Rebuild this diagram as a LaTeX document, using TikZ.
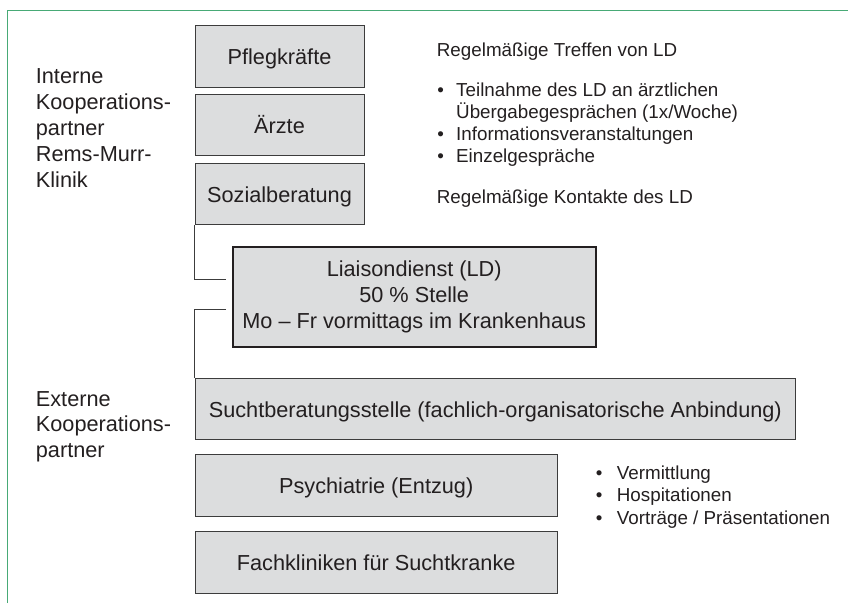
\documentclass[tikz,border=0pt]{standalone}
\usepackage{fontspec}
\setmainfont{Liberation Sans}
\usepackage{array}
\definecolor{framegreen}{RGB}{72,170,118}
\definecolor{boxfill}{RGB}{220,221,222}
\definecolor{boxline}{RGB}{60,60,60}
\definecolor{txt}{RGB}{35,31,32}
\begin{document}
\begin{tikzpicture}[x=1pt,y=-1pt,
  boxbase/.style={draw=boxline, fill=boxfill, line width=0.9pt, inner sep=0pt,
    text=txt, font=\fontsize{21.7}{26}\selectfont, align=center},
  box/.style={boxbase, text height=16.5pt, text depth=0pt},
  ldbox/.style={boxbase, draw=txt, line width=1.8pt},
  lbl/.style={inner sep=0pt, anchor=base west, text=txt, font=\fontsize{21.7}{26}\selectfont},
  anno/.style={inner sep=0pt, anchor=base west, text=txt, font=\fontsize{18.8}{22}\selectfont},
  conn/.style={draw=boxline, line width=0.9pt}]
\useasboundingbox (0,0) rectangle (848,603);
% frame
\draw[framegreen, line width=1.8pt] (7.5,603) -- (7.5,10.5) -- (848,10.5);
% internal partners
\node[box, minimum width=169pt, minimum height=61.3pt] (pfl) at (279.5,56.3) {Pflegkräfte};
\node[box, minimum width=169pt, minimum height=61pt] (arz) at (279.5,125.3) {Ärzte};
\node[box, minimum width=169pt, minimum height=61pt] (soz) at (279.5,193.8) {Sozialberatung};
% liaison service
\node[ldbox, minimum width=363pt, minimum height=100pt] (ld) at (414.2,297.3)
  {Liaisondienst (LD)\\50 \% Stelle\\Mo – Fr vormittags im Krankenhaus};
% external partners
\node[box, minimum width=600.7pt, minimum height=61pt] (sucht) at (495.3,408.8)
  {Suchtberatungsstelle (fachlich-organisatorische Anbindung)};
\node[box, minimum width=362.3pt, minimum height=62pt] (psy) at (376.2,485.5) {Psychiatrie (Entzug)};
\node[box, minimum width=362.3pt, minimum height=61.6pt] (fach) at (376.2,562.5) {Fachkliniken für Suchtkranke};
% connectors
\coordinate (j1) at (226,279.3);
\coordinate (j2) at (226,309);
\draw[conn] (soz.south west) |- (j1);
\draw[conn] (j2) -| (sucht.north west);
% left labels
\node[lbl] (intern) at (35.7,83.3)
  {\begin{tabular}[t]{@{}l@{}}Interne\\Kooperations-\\partner\\Rems-Murr-\\Klinik\end{tabular}};
\node[lbl] (extern) at (35.7,406)
  {\fontsize{21.7}{25.5}\selectfont\begin{tabular}[t]{@{}l@{}}Externe\\Kooperations-\\partner\end{tabular}};
% annotations
\node[anno] (treffen) at (436.7,56.7) {Regelmäßige Treffen von LD};
\node[anno] (tlist) at (437.2,96)
  {\begin{tabular}[t]{@{}p{18.8pt}@{}l@{}}•&Teilnahme des LD an ärztlichen\\
   &Übergabegesprächen (1x/Woche)\\
   •&Informationsveranstaltungen\\
   •&Einzelgespräche\end{tabular}};
\node[anno] (kontakte) at (436.7,203.3) {Regelmäßige Kontakte des LD};
\node[anno] (blist) at (595.7,479)
  {\fontsize{18.8}{22.5}\selectfont\begin{tabular}[t]{@{}p{21pt}@{}l@{}}•&Vermittlung\\
   •&Hospitationen\\
   •&Vorträge / Präsentationen\end{tabular}};
\end{tikzpicture}
\end{document}
